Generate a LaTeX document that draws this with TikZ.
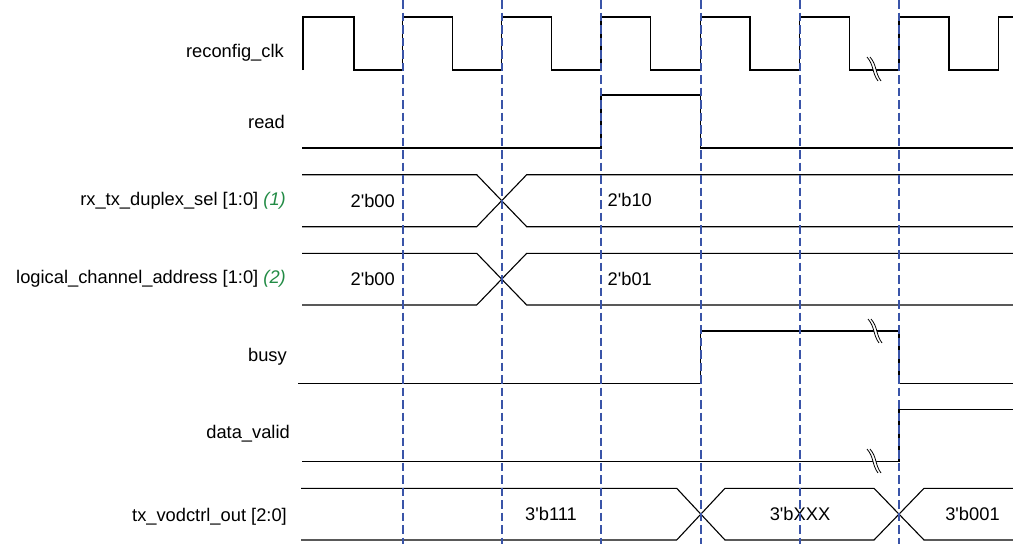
\documentclass[tikz,border=0pt]{standalone}
\usepackage{fontspec}
\setmainfont{Liberation Sans}
\definecolor{gridblue}{RGB}{58,84,168}
\definecolor{numgreen}{RGB}{34,139,69}
\newcommand{\q}{\textquotesingle}
\tikzset{
  sig/.style={line width=1.1pt, black, line join=miter},
  gridline/.style={line width=2.3pt, gridblue, dash pattern=on 8.5pt off 4pt},
  lbl/.style={anchor=east, font=\fontsize{18.3}{21}\selectfont, inner sep=0pt},
  val/.style={font=\fontsize{18.3}{21}\selectfont, inner sep=0pt},
  brkmark/.pic={
    \fill[white] (-7,-12) .. controls (0,-4) and (-2,4) .. (4,12) -- (7,12) .. controls (1,4) and (3,-4) .. (-4,-12) -- cycle;
    \draw[line width=0.8pt] (-7,-12) .. controls (0,-4) and (-2,4) .. (4,12);
    \draw[line width=0.8pt] (-4,-12) .. controls (3,-4) and (1,4) .. (7,12);
  }
}
\begin{document}
\begin{tikzpicture}[x=1pt,y=-1pt]
\useasboundingbox (0,0) rectangle (1013,544);

% labels
\node[lbl] (lclk) at (284,53) {reconfig\_clk};
\node[lbl] (lread) at (285,122) {read};
\node[lbl] (lrx) at (286,201) {rx\_tx\_duplex\_sel [1:0] {\itshape\color{numgreen}(1)}};
\node[lbl] (llog) at (286,279) {logical\_channel\_address [1:0] {\itshape\color{numgreen}(2)}};
\node[lbl] (lbusy) at (287,357) {busy};
\node[lbl] (ldv) at (290,434) {data\_valid};
\node[lbl] (ltx) at (287,517) {tx\_vodctrl\_out [2:0]};

% reconfig_clk
\draw[sig] (303,70) -- (303,17) -- (354,17) -- (354,70) -- (402.7,70)
  -- (402.7,17) -- (452.5,17) -- (452.5,70) -- (501.7,70)
  -- (501.7,17) -- (551.7,17) -- (551.7,70) -- (601,70)
  -- (601,17) -- (650.7,17) -- (650.7,70) -- (700.7,70)
  -- (700.7,17) -- (750,17) -- (750,70) -- (799.7,70)
  -- (799.7,17) -- (849.7,17) -- (849.7,70) -- (899,70)
  -- (899,17) -- (949,17) -- (949,70) -- (998.3,70)
  -- (998.3,17) -- (1013,17);
\pic at (874,69) {brkmark};

% read
\draw[sig] (302,148) -- (601,148) -- (601,95) -- (700.7,95) -- (700.7,148) -- (1013,148);

% rx_tx_duplex_sel
\draw[sig] (302,174.7) -- (476.7,174.7) -- (526.7,226.7) -- (1013,226.7);
\draw[sig] (302,226.7) -- (476.7,226.7) -- (526.7,174.7) -- (1013,174.7);
\node[val, anchor=east] (v1) at (395,201) {2\q b00};
\node[val, anchor=west] (v2) at (607.5,200) {2\q b10};

% logical_channel_address
\draw[sig] (302,253.3) -- (476.7,253.3) -- (526.7,305) -- (1013,305);
\draw[sig] (302,305) -- (476.7,305) -- (526.7,253.3) -- (1013,253.3);
\node[val, anchor=east] (v3) at (395,279) {2\q b00};
\node[val, anchor=west] (v4) at (607.5,279) {2\q b01};

% busy
\draw[sig] (298,383.3) -- (700.7,383.3) -- (700.7,331) -- (899,331) -- (899,383.3) -- (1013,383.3);
\pic at (875,331) {brkmark};

% data_valid
\draw[sig] (302,461.7) -- (899,461.7) -- (899,409.3) -- (1013,409.3);
\pic at (874,461) {brkmark};

% tx_vodctrl_out
\draw[sig] (301,488.3) -- (676.7,488.3) -- (725,540) -- (874,540) -- (924,488.3) -- (1013,488.3);
\draw[sig] (301,540) -- (676.7,540) -- (725,488.3) -- (874,488.3) -- (924,540) -- (1013,540);
\node[val] (v5) at (551,514) {3\q b111};
\node[val] (v6) at (800,514) {3\q bXXX};
\node[val] (v7) at (972.5,514) {3\q b001};

% dashed time markers
\foreach \x [count=\i] in {402.7,501.7,601,700.7,799.7,899} {
  \coordinate (t\i top) at (\x,0);
  \coordinate (t\i bot) at (\x,544);
  \draw[gridline] (t\i top) -- (t\i bot);
}
\end{tikzpicture}
\end{document}
